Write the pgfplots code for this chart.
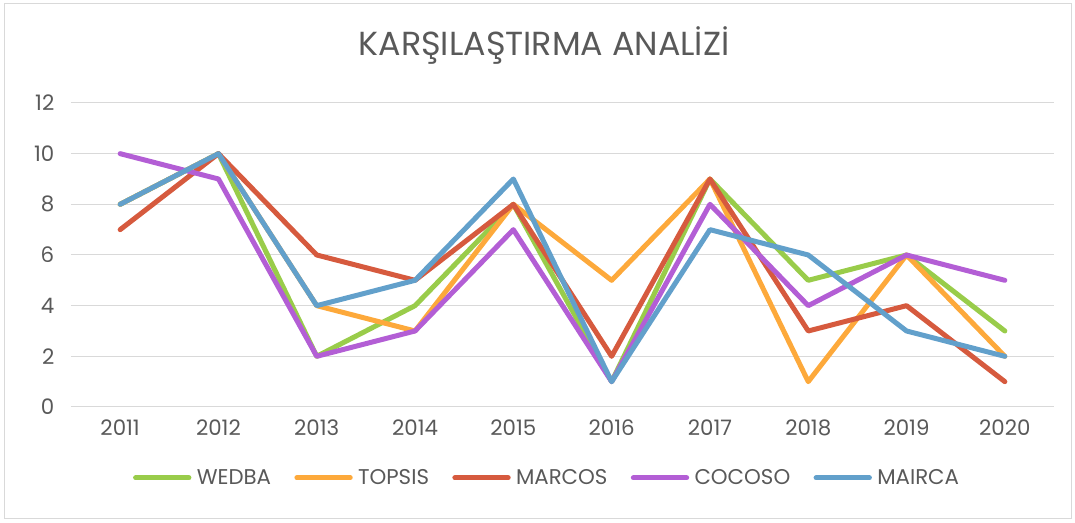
\documentclass[border=0pt]{standalone}
\usepackage{fontspec}
\setmainfont{Poppins}
\usepackage{pgfplots}
\pgfplotsset{compat=1.18}
\definecolor{txt}{HTML}{595959}
\definecolor{gridc}{HTML}{D9D9D9}
\definecolor{cW}{HTML}{99CC4A}
\definecolor{cT}{HTML}{FDA93B}
\definecolor{cM}{HTML}{D65A3E}
\definecolor{cC}{HTML}{B35ED5}
\definecolor{cA}{HTML}{62A0CB}
\begin{document}
\begin{tikzpicture}
\useasboundingbox (0,0) rectangle (806.25pt,392.25pt);
\draw[gridc, line width=0.75pt] (3pt,3pt) rectangle (803.25pt,389.25pt);
\node[text=txt, font=\fontsize{25}{28}\selectfont] at (408pt,358pt) {KARŞILAŞTIRMA ANALİZİ};
\begin{axis}[
  at={(53.25pt,87pt)}, anchor=south west,
  scale only axis, width=737.25pt, height=228pt,
  xmin=-0.5, xmax=9.5, ymin=0, ymax=12,
  xtick={0,...,9},
  xticklabels={2011,2012,2013,2014,2015,2016,2017,2018,2019,2020},
  ytick={0,2,...,12},
  xmajorgrids=false, ymajorgrids=true,
  grid style={draw=gridc, line width=0.75pt},
  axis line style={draw=none},
  major tick length=0pt,
  tick label style={text=txt, font=\fontsize{16}{18}\selectfont},
  yticklabel style={xshift=-9pt},
  xticklabel style={yshift=-6pt},
  /pgf/number format/assume math mode=true,
  clip=false,
  legend columns=5,
  legend style={at={(0.484,-0.233)}, anchor=center, draw=none, fill=none,
    font=\fontsize{16}{18}\selectfont, text=txt, inner sep=0pt,
    nodes={inner sep=1pt},
    /tikz/every odd column/.append style={column sep=3pt},
    /tikz/every even column/.append style={column sep=16.5pt}},
  legend image code/.code={\draw[#1, line width=3.75pt, line cap=round] (0pt,0pt) -- (40pt,0pt);},
  every axis plot/.append style={line width=3.75pt, line join=round, line cap=round, mark=none},
]
\addplot[cW] coordinates {(0,8)(1,10)(2,2)(3,4)(4,8)(5,1)(6,9)(7,5)(8,6)(9,3)};
\addlegendentry{WEDBA}
\addplot[cT] coordinates {(0,8)(1,10)(2,4)(3,3)(4,8)(5,5)(6,9)(7,1)(8,6)(9,2)};
\addlegendentry{TOPSIS}
\addplot[cM] coordinates {(0,7)(1,10)(2,6)(3,5)(4,8)(5,2)(6,9)(7,3)(8,4)(9,1)};
\addlegendentry{MARCOS}
\addplot[cC] coordinates {(0,10)(1,9)(2,2)(3,3)(4,7)(5,1)(6,8)(7,4)(8,6)(9,5)};
\addlegendentry{COCOSO}
\addplot[cA] coordinates {(0,8)(1,10)(2,4)(3,5)(4,9)(5,1)(6,7)(7,6)(8,3)(9,2)};
\addlegendentry{MAIRCA}
\end{axis}
\end{tikzpicture}
\end{document}
